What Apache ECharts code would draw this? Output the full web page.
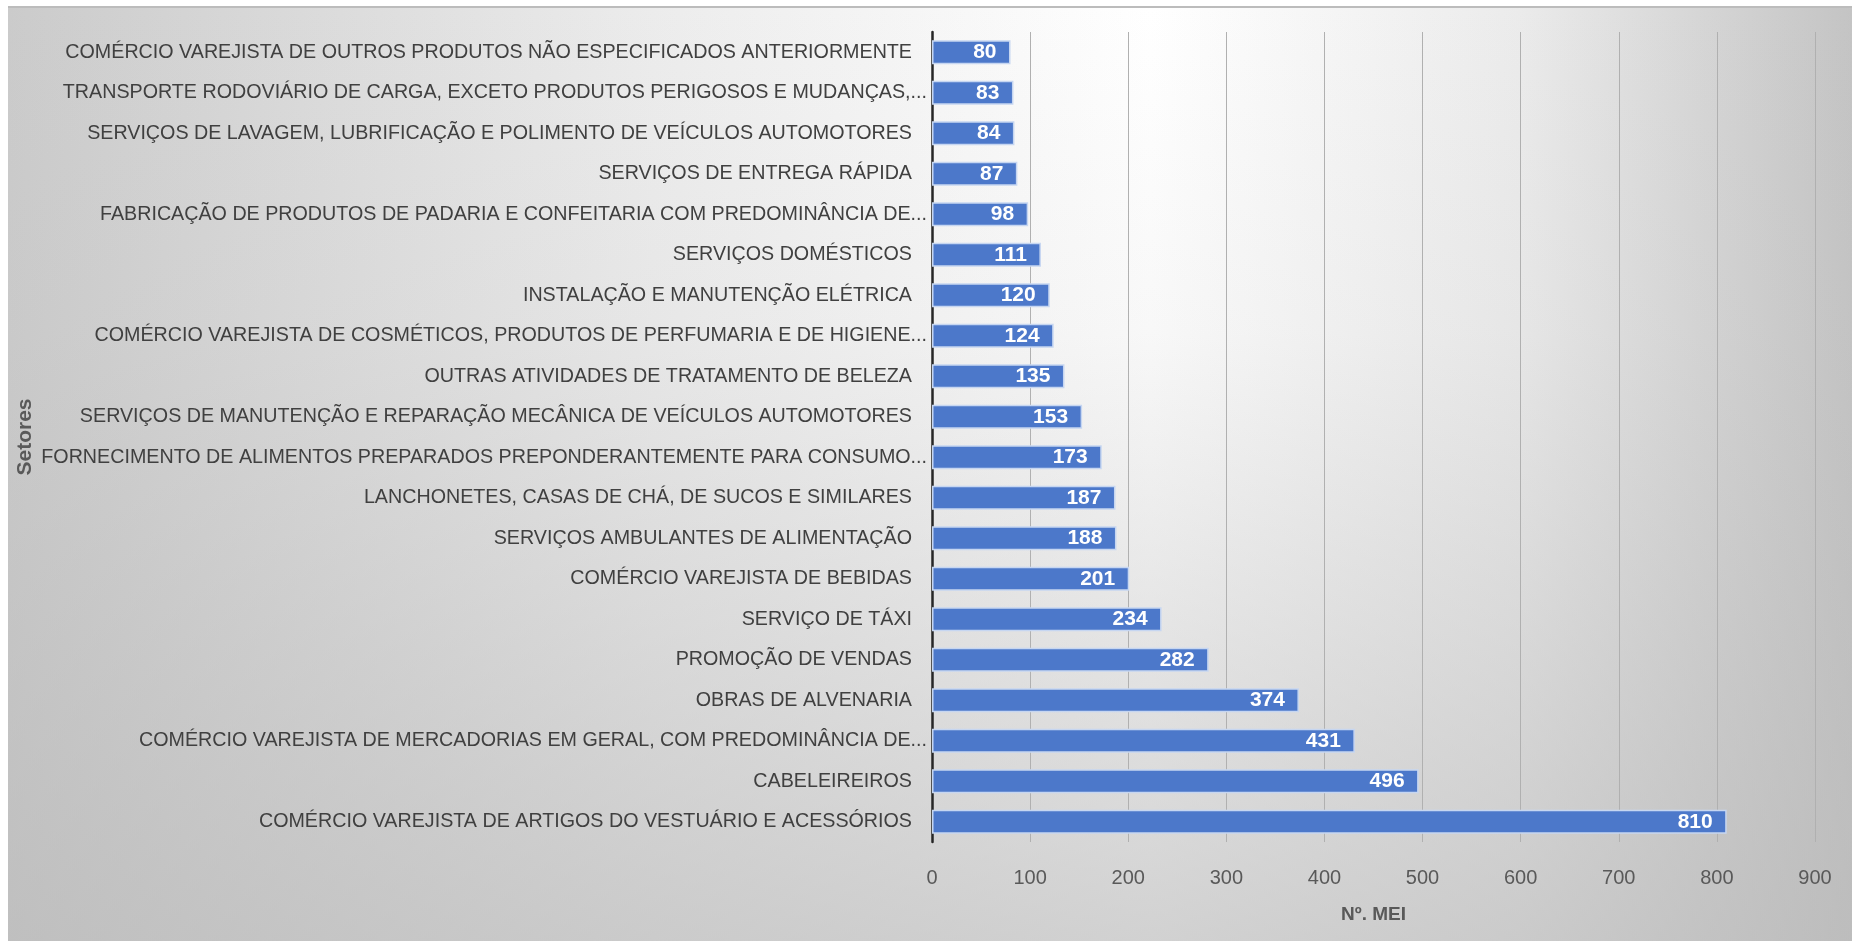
<!DOCTYPE html>
<html>
<head>
<meta charset="utf-8">
<script src="https://cdn.jsdelivr.net/npm/echarts@6/dist/echarts.min.js"></script>
<style>
html,body{margin:0;padding:0;background:#fff;}
#chart{width:1852px;height:941px;}
</style>
</head>
<body>
<div id="chart"></div>
<script>
// Categories, top to bottom as shown
const categories = [
  "COMÉRCIO VAREJISTA DE OUTROS PRODUTOS NÃO ESPECIFICADOS ANTERIORMENTE",
  "TRANSPORTE RODOVIÁRIO DE CARGA, EXCETO PRODUTOS PERIGOSOS E MUDANÇAS,...",
  "SERVIÇOS DE LAVAGEM, LUBRIFICAÇÃO E POLIMENTO DE VEÍCULOS AUTOMOTORES",
  "SERVIÇOS DE ENTREGA RÁPIDA",
  "FABRICAÇÃO DE PRODUTOS DE PADARIA E CONFEITARIA COM PREDOMINÂNCIA DE...",
  "SERVIÇOS DOMÉSTICOS",
  "INSTALAÇÃO E MANUTENÇÃO ELÉTRICA",
  "COMÉRCIO VAREJISTA DE COSMÉTICOS, PRODUTOS DE PERFUMARIA E DE HIGIENE...",
  "OUTRAS ATIVIDADES DE TRATAMENTO DE BELEZA",
  "SERVIÇOS DE MANUTENÇÃO E REPARAÇÃO MECÂNICA DE VEÍCULOS AUTOMOTORES",
  "FORNECIMENTO DE ALIMENTOS PREPARADOS PREPONDERANTEMENTE PARA CONSUMO...",
  "LANCHONETES, CASAS DE CHÁ, DE SUCOS E SIMILARES",
  "SERVIÇOS AMBULANTES DE ALIMENTAÇÃO",
  "COMÉRCIO VAREJISTA DE BEBIDAS",
  "SERVIÇO DE TÁXI",
  "PROMOÇÃO DE VENDAS",
  "OBRAS DE ALVENARIA",
  "COMÉRCIO VAREJISTA DE MERCADORIAS EM GERAL, COM PREDOMINÂNCIA DE...",
  "CABELEIREIROS",
  "COMÉRCIO VAREJISTA DE ARTIGOS DO VESTUÁRIO E ACESSÓRIOS"
];
const values = [80, 83, 84, 87, 98, 111, 120, 124, 135, 153, 173, 187, 188, 201, 234, 282, 374, 431, 496, 810];
const xTicks = [0, 100, 200, 300, 400, 500, 600, 700, 800, 900];
const yAxisTitle = "Setores";
const xAxisTitle = "Nº. MEI";

const FONT = "Liberation Sans, Arial, sans-serif";
const chart = echarts.init(document.getElementById('chart'), null, {renderer: 'canvas'});

const option = {
  backgroundColor: '#ffffff',
  animation: false,
  graphic: [
    {
      type: 'rect', z: -10, silent: true,
      shape: {x: 8, y: 6, width: 1844, height: 935},
      style: {
        fill: new echarts.graphic.LinearGradient(0, 0, 1, 0, [
          {offset: 0, color: '#cbcbcb'},
          {offset: 0.35, color: '#ececec'},
          {offset: 0.62, color: '#ffffff'},
          {offset: 0.82, color: '#ebebeb'},
          {offset: 1, color: '#c4c4c4'}
        ])
      }
    },
    {
      type: 'rect', z: -9, silent: true,
      shape: {x: 8, y: 6, width: 1844, height: 935},
      style: {
        fill: new echarts.graphic.LinearGradient(0, 0, 0, 1, [
          {offset: 0, color: 'rgba(185,185,185,0)'},
          {offset: 0.35, color: 'rgba(185,185,185,0.1)'},
          {offset: 1, color: 'rgba(185,185,185,0.65)'}
        ])
      }
    },
    {
      type: 'rect', z: -8, silent: true,
      shape: {x: 8, y: 6, width: 1844, height: 2},
      style: {fill: '#bcbcbc'}
    }
  ],
  grid: {left: 932, right: 37, top: 32, bottom: 99, containLabel: false},
  xAxis: {
    type: 'value',
    min: xTicks[0], max: xTicks[xTicks.length - 1], interval: 100,
    name: xAxisTitle,
    nameLocation: 'middle',
    nameGap: 63,
    nameTextStyle: {fontFamily: FONT, fontSize: 19, fontWeight: 'bold', color: '#595959'},
    axisLine: {show: false},
    axisTick: {show: false},
    axisLabel: {fontFamily: FONT, fontSize: 20, color: '#595959', margin: 26},
    splitLine: {show: true, lineStyle: {color: '#b0b0b0', width: 1}}
  },
  yAxis: {
    type: 'category',
    data: categories,
    inverse: true,
    name: yAxisTitle,
    nameLocation: 'middle',
    nameGap: 896,
    nameRotate: 90,
    nameTextStyle: {fontFamily: FONT, fontSize: 21, fontWeight: 'bold', color: '#595959'},
    axisLine: {show: true, lineStyle: {color: '#262626', width: 2.5}},
    axisTick: {show: false},
    axisLabel: {
      margin: 5,
      formatter: function (v) {
        return v.endsWith('...') ? '{t|' + v + '}' : '{n|' + v + '}';
      },
      rich: {
        t: {fontFamily: FONT, fontSize: 19.7, color: '#404040'},
        n: {fontFamily: FONT, fontSize: 19.7, color: '#404040', padding: [0, 15, 0, 0]}
      }
    },
    splitLine: {show: false}
  },
  series: [{
    type: 'bar',
    data: values,
    barWidth: 24,
    itemStyle: {color: '#4c78ca', borderColor: '#c6d6f1', borderWidth: 1.5},
    label: {
      show: true,
      position: 'insideRight',
      distance: 14,
      fontFamily: FONT,
      fontSize: 21,
      fontWeight: 'bold',
      color: '#ffffff'
    }
  }]
};
chart.setOption(option);
</script>
</body>
</html>
